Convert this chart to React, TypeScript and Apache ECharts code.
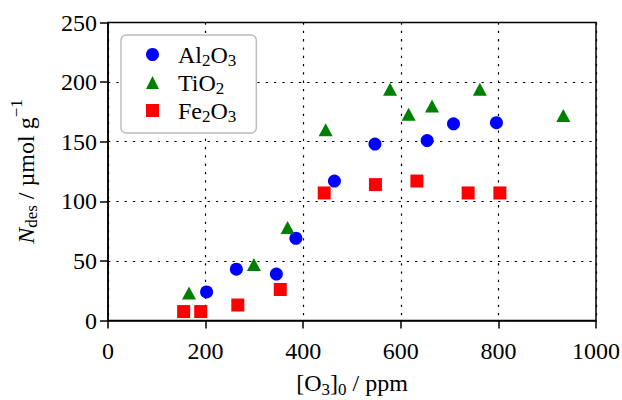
import React, { useEffect, useRef } from "react";
import * as echarts from "echarts";

// Initial ozone concentration [O3]0 (ppm) and desorbed amount N_des (µmol/g)
const al2o3X = [202, 263, 345, 385, 464, 547, 654, 708, 796];
const al2o3Y = [24, 43, 39, 69, 117, 148, 151, 165, 166];

const tio2X = [166, 299, 368, 446, 578, 616, 664, 762, 933];
const tio2Y = [23, 47, 78, 160, 194, 173, 180, 194, 172];

const fe2o3X = [155, 190, 266, 353, 443, 548, 633, 738, 803];
const fe2o3Y = [7.5, 7.5, 13, 26, 107, 114, 117, 107, 107];

const seriesNames = ["Al2O3", "TiO2", "Fe2O3"];
const legendRich: Record<string, string> = {
  Al2O3: "{n|Al}{s|2}{n|O}{s|3}",
  TiO2: "{n|TiO}{s|2}",
  Fe2O3: "{n|Fe}{s|2}{n|O}{s|3}",
};

const FONT = "'Liberation Serif', 'Times New Roman', serif";
const BIG = 24;
const SMALL = 17;

const richStyles = {
  n: { fontFamily: FONT, fontSize: BIG, lineHeight: 25, color: "#000" },
  i: { fontFamily: FONT, fontSize: BIG, lineHeight: 25, color: "#000", fontStyle: "italic" },
  s: { fontFamily: FONT, fontSize: SMALL, lineHeight: 13, color: "#000", padding: [12, 0, 0, 0] },
  sup: { fontFamily: FONT, fontSize: SMALL, lineHeight: 13, color: "#000", padding: [0, 0, 18, 0] },
};

const zip = (xs: number[], ys: number[]) => xs.map((x, i) => [x, ys[i]]);
const tickText = (v: number) => `{n|${v}}`;

export default function App() {
  const ref = useRef<HTMLDivElement>(null);

  useEffect(() => {
    const chart = echarts.init(ref.current!, null, { renderer: "svg" });
    chart.setOption({
      animation: false,
      backgroundColor: "#fff",
      textStyle: { fontFamily: FONT },
      grid: {
        left: 108,
        top: 22.5,
        width: 488,
        height: 298,
        show: true,
        borderColor: "#000",
        borderWidth: 1.5,
        backgroundColor: "transparent",
        outerBoundsMode: "none",
      },
      legend: {
        data: seriesNames,
        orient: "vertical",
        left: 121,
        top: 35,
        padding: [5, 20, 8, 25],
        itemGap: -1,
        itemWidth: 13,
        itemHeight: 13,
        backgroundColor: "#fff",
        borderColor: "#bdbdbd",
        borderWidth: 1.5,
        borderRadius: 5,
        formatter: (name: string) => legendRich[name] ?? name,
        textStyle: { fontFamily: FONT, padding: [0, 0, 0, 14], rich: richStyles },
      },
      xAxis: {
        type: "value",
        min: 0,
        max: 1000,
        interval: 200,
        name: "{n|[O}{s|3}{n|]}{s|0}{n| / ppm}",
        nameLocation: "middle",
        nameGap: 50,
        nameTextStyle: { fontFamily: FONT, rich: richStyles },
        axisLine: { show: true, onZero: false, lineStyle: { color: "#000", width: 1.5 } },
        axisTick: { show: true, inside: false, length: 8, lineStyle: { color: "#000", width: 1.5 } },
        axisLabel: {
          fontFamily: FONT,
          fontSize: BIG,
          color: "#000",
          margin: 18,
          formatter: tickText,
          rich: richStyles,
        },
        splitLine: { show: true, lineStyle: { color: "#000", width: 1.2, type: [2.3, 6] } },
      },
      yAxis: {
        type: "value",
        min: 0,
        max: 250,
        interval: 50,
        name: "{i|N}{s|des}{n| / µmol g}{sup|−1}",
        nameLocation: "middle",
        nameRotate: 90,
        nameGap: 70,
        nameTextStyle: { fontFamily: FONT, rich: richStyles },
        axisLine: { show: true, onZero: false, lineStyle: { color: "#000", width: 1.5 } },
        axisTick: { show: true, inside: false, length: 8, lineStyle: { color: "#000", width: 1.5 } },
        axisLabel: {
          fontFamily: FONT,
          fontSize: BIG,
          color: "#000",
          margin: 11,
          formatter: tickText,
          rich: richStyles,
        },
        splitLine: { show: true, lineStyle: { color: "#000", width: 1.2, type: [2.3, 6] } },
      },
      series: [
        {
          name: "Al2O3",
          type: "scatter",
          symbol: "circle",
          symbolSize: 13,
          itemStyle: { color: "#0000ff", opacity: 1 },
          data: zip(al2o3X, al2o3Y),
        },
        {
          name: "TiO2",
          type: "scatter",
          symbol: "triangle",
          symbolSize: [14, 13],
          itemStyle: { color: "#008000", opacity: 1 },
          data: zip(tio2X, tio2Y),
        },
        {
          name: "Fe2O3",
          type: "scatter",
          symbol: "rect",
          symbolSize: 13,
          itemStyle: { color: "#ff0000", opacity: 1 },
          data: zip(fe2o3X, fe2o3Y),
        },
      ],
    });
    return () => chart.dispose();
  }, []);

  return (
    <div
      ref={ref}
      style={{ position: "absolute", left: 0, top: 0, width: 622, height: 400 }}
    />
  );
}
